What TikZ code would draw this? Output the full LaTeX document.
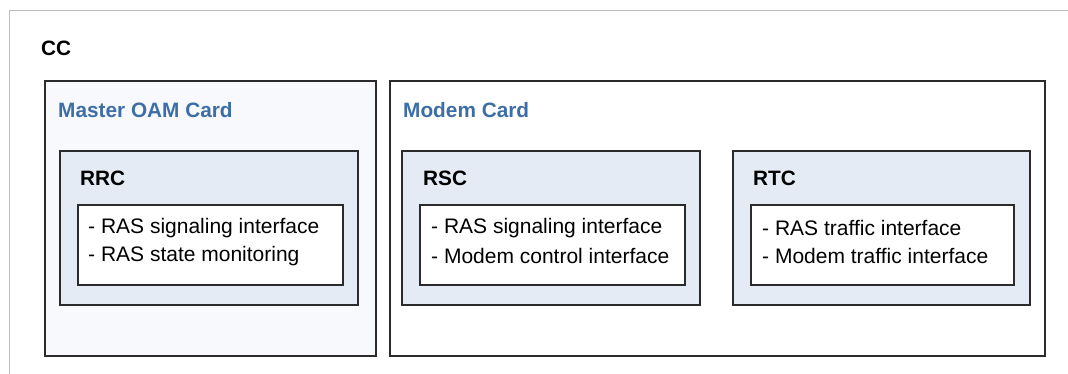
\documentclass[tikz,border=0pt]{standalone}
\usepackage{fontspec}
\setmainfont{Liberation Sans}
\usetikzlibrary{shadows}
\definecolor{framegray}{HTML}{BDBDBD}
\definecolor{edge}{HTML}{2B2B2B}
\definecolor{cardfill}{HTML}{F7F9FC}
\definecolor{unitfill}{HTML}{E4EBF4}
\definecolor{cardtitle}{HTML}{3D6FA6}
\tikzset{
  boxbase/.style={draw=edge, line width=1.5pt, anchor=north west, inner sep=0pt,
    drop shadow={shadow xshift=1.6pt, shadow yshift=-1.6pt, fill=black, opacity=0.22}},
  card/.style={boxbase, fill=#1},
  unitbox/.style={boxbase, fill=unitfill},
  listbox/.style={boxbase, fill=white},
  heading/.style={anchor=west, inner sep=0pt, font=\fontsize{20.8}{24}\selectfont\bfseries},
  cardhead/.style={heading, text=cardtitle},
  item/.style={anchor=west, inner sep=0pt, font=\fontsize{21}{24}\selectfont},
}
\begin{document}
\begin{tikzpicture}[x=1pt, y=-1pt]
\useasboundingbox (0,0) rectangle (1068,373);
\fill[white] (0,0) rectangle (1068,373);

% outer CC frame (runs past the lower edge)
\node[draw=framegray, line width=1.2pt, anchor=north west, inner sep=0pt,
      minimum width=1059pt, minimum height=380pt] (ccbox) at (8.5,9.5) {};
\node[heading] (cc) at (41,48) {CC};

% Master OAM card
\node[card=cardfill, minimum width=331pt, minimum height=275pt] (oam) at (44,80) {};
\node[cardhead] (oamt) at (58,110) {Master OAM Card};
\node[unitbox, minimum width=298pt, minimum height=154pt] (rrc) at (59,150) {};
\node[heading] (rrct) at (80,178) {RRC};
\node[listbox, minimum width=265pt, minimum height=80pt] (rrcl) at (77,204) {};
\node[item] (rrc1) at (88,228) {- RAS signaling interface};
\node[item] (rrc2) at (88,256) {- RAS state monitoring};

% Modem card
\node[card=white, minimum width=655pt, minimum height=275pt] (modem) at (389,80) {};
\node[cardhead] (modemt) at (403,110) {Modem Card};

\node[unitbox, minimum width=298pt, minimum height=154pt] (rsc) at (401,150) {};
\node[heading] (rsct) at (423,178) {RSC};
\node[listbox, minimum width=265pt, minimum height=80pt] (rscl) at (419,204) {};
\node[item] (rsc1) at (431,228) {- RAS signaling interface};
\node[item] (rsc2) at (431,256) {- Modem control interface};

\node[unitbox, minimum width=297pt, minimum height=154pt] (rtc) at (732,150) {};
\node[heading] (rtct) at (753,178) {RTC};
\node[listbox, minimum width=263pt, minimum height=80pt] (rtcl) at (750,204) {};
\node[item] (rtc1) at (762,228) {- RAS traffic interface};
\node[item] (rtc2) at (762,256) {- Modem traffic interface};
\end{tikzpicture}
\end{document}
